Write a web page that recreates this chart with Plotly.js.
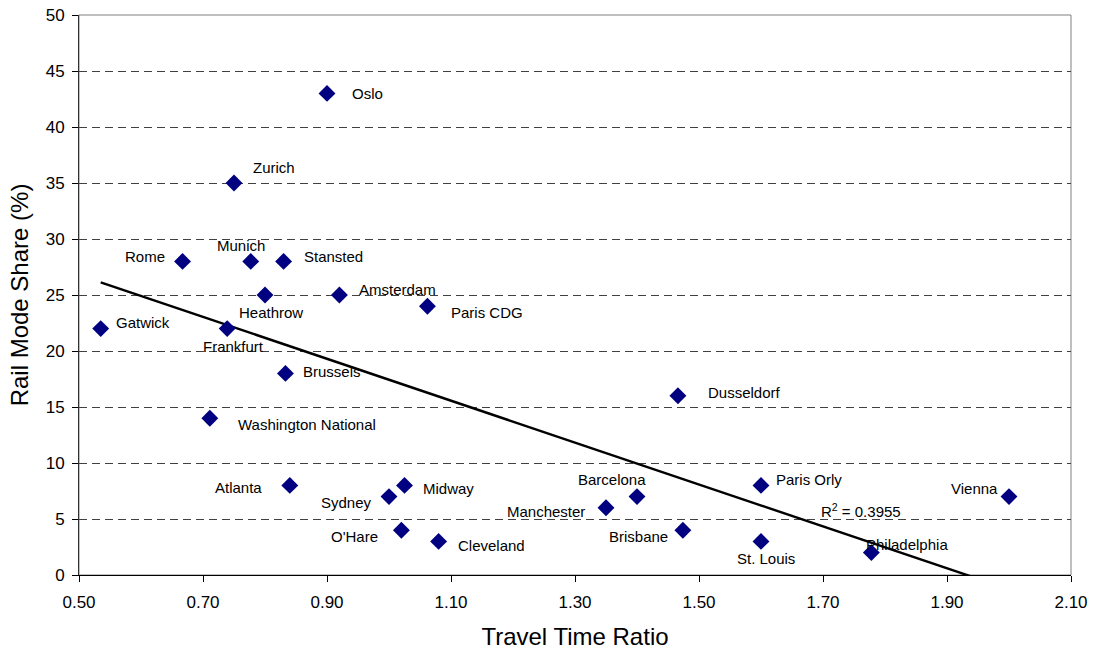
<!DOCTYPE html>
<html>
<head>
<meta charset="utf-8">
<script src="https://cdn.plot.ly/plotly-3.0.1.min.js"></script>
<style>html,body{margin:0;padding:0;background:#fff;}#chart{width:1093px;height:650px;}</style>
</head>
<body>
<div id="chart"></div>
<script>
// Data
var airports = ["Oslo","Zurich","Rome","Munich","Stansted","Heathrow","Amsterdam","Paris CDG","Gatwick","Frankfurt","Brussels","Washington National","Dusseldorf","Atlanta","Sydney","Midway","O'Hare","Cleveland","Barcelona","Manchester","Brisbane","Paris Orly","St. Louis","Philadelphia","Vienna"];
var travelTimeRatio = [0.90,0.75,0.667,0.777,0.83,0.80,0.92,1.062,0.535,0.739,0.833,0.711,1.466,0.84,1.00,1.025,1.02,1.08,1.40,1.35,1.474,1.60,1.60,1.778,2.00];
var railModeShare = [43,35,28,28,28,25,25,24,22,22,18,14,16,8,7,8,4,3,7,6,4,8,3,2,7];
var trendX = [0.535, 2.00];
var trendY = [26.13, -1.27];
var rSquaredText = "R<sup>2</sup> = 0.3955";
var rSquaredPos = [1.761, 5.8];
var xTicks = [0.5,0.7,0.9,1.1,1.3,1.5,1.7,1.9,2.1];
var yTicks = [0,5,10,15,20,25,30,35,40,45,50];

// Label placement (anchor, dx, dy in screen px; dy positive = down)
var labelPlacement = {
  "Oslo":["left",23,0],
  "Zurich":["left",17,-16],
  "Rome":["right",-16,-5],
  "Munich":["center",-10,-16],
  "Stansted":["left",18,-5],
  "Heathrow":["center",6,17],
  "Amsterdam":["left",18,-6],
  "Paris CDG":["left",22,6],
  "Gatwick":["left",13,-6],
  "Frankfurt":["center",6,18],
  "Brussels":["left",16,-2],
  "Washington National":["left",26,6],
  "Dusseldorf":["left",28,-3],
  "Atlanta":["right",-26,2],
  "Sydney":["right",-15,6],
  "Midway":["left",16,3],
  "O'Hare":["right",-21,6],
  "Cleveland":["left",17,4],
  "Barcelona":["center",-25,-17],
  "Manchester":["right",-19,4],
  "Brisbane":["right",-13,6],
  "Paris Orly":["left",13,-6],
  "St. Louis":["center",5,17],
  "Philadelphia":["left",-7,-8],
  "Vienna":["right",-9,-8]
};

var FONT = "Liberation Sans, Arial, Helvetica, sans-serif";

var annotations = airports.map(function(name, i){
  var p = labelPlacement[name];
  return {
    x: travelTimeRatio[i], y: railModeShare[i], xref:"x", yref:"y",
    text: name, showarrow:false, xanchor:p[0], yanchor:"middle",
    xshift:p[1], yshift:-p[2],
    font:{family:FONT, size:15, color:"#000"}
  };
});
annotations.push({
  x: rSquaredPos[0], y: rSquaredPos[1], xref:"x", yref:"y",
  text: rSquaredText, showarrow:false, xanchor:"center", yanchor:"middle",
  font:{family:FONT, size:15, color:"#000"}
});

var traces = [
  {
    x: trendX, y: trendY, mode:"lines", type:"scatter",
    line:{color:"#000", width:2.4}, hoverinfo:"skip", showlegend:false
  },
  {
    x: travelTimeRatio, y: railModeShare, text: airports, mode:"markers", type:"scatter",
    marker:{symbol:"diamond", size:13, color:"#000080", line:{width:0}},
    showlegend:false
  }
];

var layout = {
  width:1093, height:650,
  margin:{l:79, r:22, t:15, b:75, pad:0},
  paper_bgcolor:"#fff", plot_bgcolor:"#fff",
  font:{family:FONT, color:"#000"},
  showlegend:false,
  xaxis:{
    range:[0.5,2.1], tickvals:xTicks, tickformat:".2f",
    ticks:"outside", ticklen:6, tickcolor:"#000", tickwidth:1,
    showline:true, linecolor:"#000", linewidth:1,
    showgrid:false, zeroline:false,
    tickfont:{family:FONT, size:17, color:"#000"},
    ticklabelstandoff:6,
    title:{text:"Travel Time Ratio", font:{family:FONT, size:24, color:"#000"}, standoff:16},
    automargin:false, fixedrange:true
  },
  yaxis:{
    range:[0,50], tickvals:yTicks,
    ticks:"outside", ticklen:6, tickcolor:"#000", tickwidth:1,
    showline:true, linecolor:"#333", linewidth:1,
    showgrid:true, gridcolor:"#404040", gridwidth:1, griddash:"8px,5px",
    zeroline:false,
    tickfont:{family:FONT, size:17, color:"#000"},
    ticklabelstandoff:4,
    title:{text:"Rail Mode Share (%)", font:{family:FONT, size:24, color:"#000"}, standoff:10},
    automargin:false, fixedrange:true
  },
  shapes:[{
    type:"rect", xref:"paper", yref:"paper", x0:0, x1:1, y0:0, y1:1,
    line:{color:"#808080", width:1}, layer:"below"
  }],
  annotations: annotations
};

Plotly.newPlot("chart", traces, layout, {displayModeBar:false, staticPlot:true});
</script>
</body>
</html>
